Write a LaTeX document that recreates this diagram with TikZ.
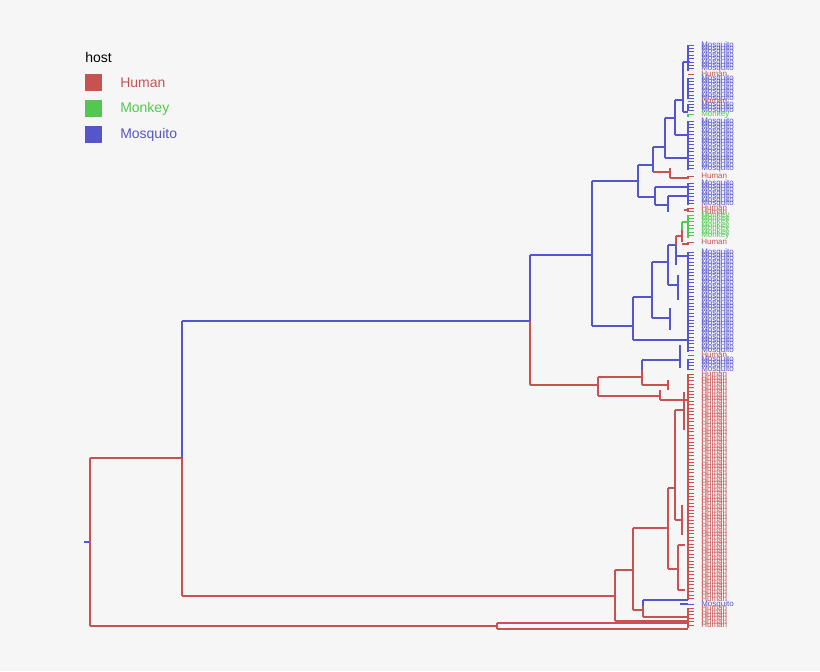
\documentclass[tikz,border=0pt]{standalone}
\usepackage{fontspec}
\setmainfont{Liberation Sans}
\definecolor{hr}{HTML}{C85252}
\definecolor{hg}{HTML}{52C852}
\definecolor{hb}{HTML}{5555CC}
\definecolor{bgc}{HTML}{F6F6F6}
\begin{document}
\begin{tikzpicture}[x=0.75pt,y=-0.75pt,
  br/.style={line width=1.5pt},
  lf/.style={line width=0.6pt},
  leaflbl/.style={anchor=west,inner sep=0pt,font=\fontsize{6}{6}\selectfont},
  legtxt/.style={anchor=west,inner sep=0pt,font=\fontsize{10.5}{12}\selectfont}]
\fill[bgc] (0,0) rectangle (820,671);
\useasboundingbox (0,0) rectangle (820,671);
% legend
\node[anchor=west,inner sep=0pt,font=\fontsize{10.5}{12}\selectfont] (lh) at (85,57) {host};
\fill[hr] (85,74) rectangle (102,91); \node[legtxt,text=hr] (l1) at (120,83) {Human};
\fill[hg] (85,100) rectangle (102,117); \node[legtxt,text=hg] (l2) at (120,109) {Monkey};
\fill[hb] (85,126) rectangle (102,143); \node[legtxt,text=hb] (l3) at (120,135) {Mosquito};
% leaves
\foreach \a/\b/\c/\t in {45/71/hb/Mosquito,74/74/hr/Human,78/99/hb/Mosquito,101/101/hr/Human,104/111/hb/Mosquito,114/117/hg/Monkey,121/170/hb/Mosquito,176/179/hr/Human,183/205/hb/Mosquito,208/212/hr/Human,215/238/hg/Monkey,242/245/hr/Human,252/352/hb/Mosquito,355/355/hr/Human,359/370/hb/Mosquito,374/600/hr/Human,604/604/hb/Mosquito,608/628/hr/Human}{
  \pgfmathtruncatemacro{\n}{(\b-\a)/3.4}
  \draw[br,\c] (688,\a) -- (688,\b);
  \foreach \i in {0,...,\n}{
    \pgfmathsetmacro{\yy}{\a+3.4*\i}
    \draw[lf,\c] (688,\yy) -- (694,\yy);
    \node[leaflbl,text=\c] at (701,\yy) {\t};
  }
}
% backbone
\draw[br,hb] (84,542) -- (90,542);
\draw[br,hr] (90,458) -- (90,626);
\draw[br,hr] (90,458) -- (182,458);
\draw[br,hb] (182,321) -- (182,458);
\draw[br,hr] (182,458) -- (182,596);
\draw[br,hb] (182,321) -- (530,321);
\draw[br,hb] (530,255) -- (530,321);
\draw[br,hr] (530,321) -- (530,385);
\draw[br,hb] (530,255) -- (592,255);
\draw[br,hb] (592,181) -- (592,326);
% top blue clade
\draw[br,hb] (592,181) -- (638,181) (638,165) -- (638,197)
  (638,197) -- (655,197) (655,187) -- (655,205) (655,187) -- (688,187)
  (655,205) -- (668,205) (668,196) -- (668,212) (668,196) -- (688,196)
  (638,165) -- (653,165) (653,147) -- (653,172)
  (653,147) -- (665,147) (665,118) -- (665,158) (665,158) -- (688,158)
  (665,118) -- (675,118) (675,100) -- (675,135) (675,135) -- (688,135)
  (675,100) -- (683,100) (683,62) -- (683,112)
  (683,62) -- (690,62) (683,112) -- (688,112);
\draw[br,hr] (653,172) -- (670,172) (670,168) -- (670,178) (670,178) -- (688,178);
% lower blue clade
\draw[br,hb] (592,326) -- (633,326) (633,297) -- (633,340) (633,340) -- (688,340)
  (633,297) -- (652,297) (652,262) -- (652,318) (652,318) -- (670,318) (670,308) -- (670,330)
  (652,262) -- (668,262) (668,245) -- (668,285) (668,285) -- (678,285) (678,275) -- (678,300)
  (668,245) -- (676,245) (676,256) -- (688,256) (676,245) -- (676,265);
\draw[br,hr] (676,245) -- (676,236) (676,236) -- (682,236) (682,242) -- (682,230) (682,244) -- (688,244);
\draw[br,hg] (682,230) -- (682,222) (682,222) -- (688,222);
\draw[br,hr] (688,210) -- (684,210);
% middle red clade
\draw[br,hr] (530,385) -- (598,385) (598,377) -- (598,396)
  (598,377) -- (642,377) (642,370) -- (642,385) (642,385) -- (668,385) (668,380) -- (668,390)
  (598,396) -- (660,396) (660,390) -- (660,400) (660,400) -- (688,400);
\draw[br,hb] (642,370) -- (642,360) (642,360) -- (680,360) (680,345) -- (680,368);
% bottom red clade
\draw[br,hr] (182,596) -- (615,596) (615,570) -- (615,621) (615,621) -- (688,621)
  (615,570) -- (633,570) (633,528) -- (633,610) (633,610) -- (643,610) (643,606) -- (643,617) (643,617) -- (688,617)
  (633,528) -- (668,528) (668,488) -- (668,569) (668,569) -- (678,569) (678,545) -- (678,590)
  (668,488) -- (675,488) (675,410) -- (675,520) (675,410) -- (684,410) (684,392) -- (684,430)
  (675,520) -- (682,520) (682,505) -- (682,535) (678,545) -- (685,545) (678,590) -- (685,590)
  (90,626) -- (497,626) (497,623) -- (497,629) (497,623) -- (688,623) (497,629) -- (688,629);
\draw[br,hb] (643,606) -- (643,600) (643,600) -- (688,600) (680,604) -- (688,604);
\end{tikzpicture}
\end{document}
